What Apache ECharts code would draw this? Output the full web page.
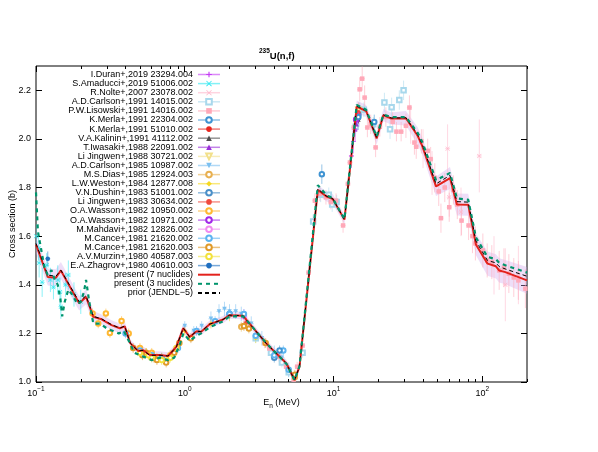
<!DOCTYPE html>
<html><head><meta charset="utf-8">
<script src="https://cdn.jsdelivr.net/npm/echarts@6/dist/echarts.min.js"></script>
<style>html,body{margin:0;padding:0;background:#fff}#c{width:598px;height:452px}</style>
</head><body><div id="c"></div>
<script>
// ---------- DATA ----------
const xMajorTicks = [0.1, 1, 10, 100];
const xMinorTicks = [0.2,0.3,0.4,0.5,0.6,0.7,0.8,0.9,2,3,4,5,6,7,8,9,20,30,40,50,60,70,80,90,200];
const yTicks = [1.0, 1.2, 1.4, 1.6, 1.8, 2.0, 2.2];

const present7 = [[0.100,1.565],[0.120,1.432],[0.136,1.429],[0.147,1.459],[0.195,1.324],[0.217,1.350],[0.243,1.268],[0.276,1.258],[0.322,1.234],[0.366,1.221],[0.395,1.229],[0.430,1.160],[0.486,1.128],[0.525,1.131],[0.582,1.111],[0.679,1.111],[0.773,1.107],[0.879,1.145],[0.977,1.222],[1.08,1.185],[1.20,1.209],[1.29,1.207],[1.47,1.238],[1.81,1.257],[2.0,1.275],[2.46,1.273],[2.73,1.240],[3.53,1.159],[4.82,1.077],[5.47,1.008],[5.91,1.063],[7.85,1.790],[8.93,1.764],[9.89,1.753],[11.85,1.668],[14.33,2.133],[16.57,2.115],[19.5,2.002],[21.66,2.098],[24.4,2.084],[30.7,2.085],[36.8,2.013],[39.7,1.968],[48.9,1.805],[60.7,1.839],[67.6,1.730],[80.5,1.729],[90.7,1.566],[108.5,1.487],[123.6,1.476],[130,1.459],[143,1.452],[200,1.418]];
const present7Unc = [0.035,0.035,0.035,0.035,0.03,0.03,0.025,0.02,0.02,0.02,0.02,0.015,0.015,0.015,0.015,0.015,0.015,0.015,0.015,0.015,0.015,0.015,0.015,0.015,0.015,0.015,0.015,0.015,0.015,0.015,0.015,0.02,0.02,0.02,0.02,0.025,0.025,0.025,0.025,0.025,0.03,0.035,0.035,0.04,0.045,0.045,0.045,0.045,0.05,0.05,0.05,0.05,0.055];
const present3 = [[0.100,1.78],[0.103,1.62],[0.108,1.55],[0.114,1.47],[0.120,1.44],[0.127,1.46],[0.134,1.42],[0.140,1.40],[0.146,1.34],[0.150,1.27],[0.156,1.33],[0.165,1.38],[0.175,1.36],[0.190,1.32],[0.200,1.33],[0.210,1.37],[0.217,1.42],[0.228,1.33],[0.243,1.24],[0.27,1.24],[0.30,1.22],[0.33,1.21],[0.36,1.20],[0.39,1.21],[0.42,1.17],[0.46,1.12],[0.50,1.11],[0.55,1.10],[0.60,1.09],[0.68,1.10],[0.77,1.09],[0.85,1.10],[0.92,1.15],[0.98,1.20],[1.08,1.17],[1.20,1.19],[1.29,1.20],[1.47,1.225],[1.81,1.25],[2.0,1.27],[2.46,1.27],[2.73,1.24],[3.53,1.16],[4.82,1.075],[5.47,1.008],[5.91,1.065],[7.85,1.81],[8.93,1.77],[9.89,1.755],[11.85,1.67],[14.33,2.14],[16.57,2.12],[19.5,2.01],[21.66,2.10],[24.4,2.09],[30.7,2.09],[36.8,2.025],[39.7,1.985],[48.9,1.83],[60.7,1.86],[67.6,1.755],[80.5,1.75],[90.7,1.595],[108.5,1.515],[123.6,1.505],[130,1.49],[143,1.48],[200,1.45]];
const priorJendl5 = [[0.100,1.57],[0.120,1.44],[0.136,1.435],[0.147,1.46],[0.195,1.33],[0.217,1.355],[0.243,1.27],[0.276,1.26],[0.322,1.236],[0.366,1.222],[0.395,1.23],[0.430,1.16],[0.486,1.128],[0.525,1.13],[0.582,1.11],[0.679,1.11],[0.773,1.107],[0.879,1.145],[0.977,1.222],[1.08,1.185],[1.20,1.209],[1.29,1.207],[1.47,1.238],[1.81,1.257],[2.0,1.275],[2.46,1.273],[2.73,1.240],[3.53,1.159],[4.82,1.077],[5.47,1.008],[5.91,1.063],[7.85,1.795],[8.93,1.765],[9.89,1.754],[11.85,1.668],[14.33,2.135],[16.57,2.117],[19.5,2.005],[21.66,2.099],[24.4,2.086],[30.7,2.087],[36.8,2.018],[39.7,1.975],[48.9,1.815],[60.7,1.85],[67.6,1.742],[80.5,1.74],[90.7,1.58],[108.5,1.50],[123.6,1.49],[130,1.475],[143,1.465],[200,1.435]];

// experiments: [E (MeV), sigma (b), dsigma (b)]
const expDuran = [[13.2,1.93,0.05],[13.6,1.99,0.05],[14.0,2.04,0.05],[14.4,2.08,0.05],[14.8,2.10,0.05]];
const expAmaducci = [[0.100,1.60,0.05],[0.104,1.55,0.05],[0.105,1.49,0.06],[0.110,1.41,0.06],[0.118,1.48,0.05],[0.125,1.42,0.05],[0.131,1.39,0.05],[0.140,1.42,0.06],[0.145,1.37,0.06],[0.147,1.31,0.05],[0.158,1.40,0.05],[0.165,1.44,0.06],[0.180,1.36,0.05],[0.200,1.33,0.05]];
const expNolte = [[33,2.06,0.08],[40,1.96,0.08],[46,1.86,0.09],[58.5,1.96,0.10],[60,1.76,0.08],[72,1.70,0.10],[95.6,1.93,0.15],[120,1.48,0.12],[143,1.40,0.15],[175,1.44,0.12]];
const expCarlson91 = [[3.0,1.18,0.02],[3.8,1.12,0.02],[4.5,1.08,0.02],[5.0,1.04,0.02],[6.2,1.12,0.02],[7.3,1.66,0.03],[8.2,1.77,0.03],[9.3,1.77,0.03],[9.8,1.73,0.03],[10.5,1.74,0.03],[14.1,2.05,0.03],[15.0,2.12,0.03],[16.0,2.12,0.03],[18.5,2.06,0.03],[22,2.15,0.04],[24,2.04,0.04],[24.6,2.13,0.04],[27.7,2.16,0.04],[29.6,2.20,0.04]];
const expLisowski = [[3.44,1.159,0.02],[3.7,1.138,0.02],[4.3,1.104,0.02],[4.8,1.063,0.02],[5.4,1.01,0.02],[5.7,1.063,0.02],[6.2,1.15,0.02],[6.8,1.45,0.03],[7.5,1.746,0.03],[8.1,1.774,0.03],[8.9,1.76,0.03],[9.6,1.74,0.03],[10.4,1.746,0.03],[11.6,1.644,0.03],[12.5,1.815,0.03],[12.9,1.903,0.03],[13.7,2.047,0.04],[15.0,2.204,0.05],[15.6,2.248,0.05],[16.2,2.17,0.05],[16.9,2.047,0.04],[17.8,2.06,0.04],[19.2,1.965,0.04],[20.5,2.05,0.04],[22.5,2.09,0.04],[25,2.07,0.04],[26.5,2.03,0.04],[28.5,2.03,0.04],[30.7,2.054,0.05],[32.4,2.129,0.05],[35,1.985,0.05],[36,1.968,0.05],[39,1.99,0.05],[43,1.951,0.05],[45,1.917,0.05],[48,1.84,0.06],[51,1.784,0.06],[52.8,1.674,0.06],[56,1.80,0.06],[60,1.719,0.06],[64,1.79,0.06],[68,1.73,0.06],[72.6,1.664,0.06],[81,1.644,0.06],[86,1.60,0.07],[90,1.57,0.07],[101,1.541,0.07],[108,1.50,0.07],[116,1.493,0.07],[130,1.459,0.08],[140,1.47,0.08],[151,1.446,0.08],[163,1.43,0.08],[175,1.418,0.08],[195,1.384,0.08]];
const expMerla22304 = [[4.34,1.13,0.02],[8.35,1.855,0.04],[14.7,2.09,0.03],[18.8,2.07,0.03]];
const expMerla51010 = [[14.7,2.09,0.03]];
const expKalinin = [[14.7,2.08,0.03]];
const expIwasaki = [[13.9,2.04,0.03],[14.3,2.06,0.03],[14.7,2.09,0.03]];
const expLiJingwen88 = [[14.7,2.12,0.03]];
const expCarlson85 = [[1.0,1.23,0.02],[1.15,1.21,0.02],[1.3,1.23,0.02],[1.5,1.26,0.03],[1.7,1.29,0.03],[1.85,1.30,0.03],[2.0,1.29,0.03],[2.2,1.29,0.03],[2.4,1.28,0.03],[2.8,1.24,0.03],[3.3,1.18,0.03],[4.0,1.12,0.03],[4.5,1.10,0.03],[5.0,1.05,0.03]];
const expDias = [[2.4,1.227,0.02],[5.5,1.02,0.02]];
const expWeston = [[0.5,1.13,0.02],[0.55,1.12,0.02],[0.6,1.11,0.02],[0.65,1.10,0.02],[0.7,1.10,0.02],[0.75,1.09,0.02],[0.8,1.11,0.02],[0.9,1.15,0.02],[1.0,1.21,0.02],[1.5,1.24,0.02],[2.0,1.27,0.02],[3.0,1.18,0.02],[5.0,1.05,0.02]];
const expDushin = [[2.0,1.28,0.02],[4.0,1.10,0.02],[14.7,2.10,0.03]];
const expLiJingwen83 = [[2.6,1.245,0.02],[14.7,2.11,0.03]];
const expWasson10950 = [[0.24,1.282,0.02],[0.262,1.241,0.02],[0.295,1.282,0.02],[0.314,1.202,0.02],[0.376,1.251,0.02],[0.42,1.20,0.02],[0.5,1.14,0.02],[0.6,1.12,0.02],[0.7,1.10,0.02],[0.8,1.11,0.02]];
const expWasson10971 = [[14.2,2.08,0.03]];
const expMahdavi = [[2.5,1.27,0.03]];
const expCance002 = [[0.4,1.20,0.02],[0.5,1.13,0.02],[0.6,1.11,0.02],[0.7,1.10,0.02],[0.9,1.14,0.02],[1.2,1.21,0.02],[1.6,1.25,0.02],[2.0,1.28,0.02],[2.5,1.28,0.02],[3.0,1.19,0.02],[4.0,1.11,0.02],[4.6,1.13,0.02],[5.0,1.05,0.02]];
const expCance003 = [[0.45,1.14,0.02],[0.52,1.11,0.02],[0.55,1.12,0.02],[0.62,1.10,0.02],[0.65,1.09,0.02],[0.75,1.08,0.02],[0.85,1.12,0.02],[0.92,1.16,0.02],[1.1,1.18,0.02],[2.5,1.23,0.02],[2.7,1.22,0.02],[3.5,1.16,0.02],[5.5,1.03,0.02]];
const expMurzin = [[0.5,1.12,0.02],[0.57,1.11,0.02],[0.6,1.10,0.02],[0.7,1.09,0.02],[0.8,1.10,0.02],[0.88,1.14,0.02]];
const expZhagrov = [[0.12,1.507,0.03]];

const expNames = ['I.Duran+,2019 23294.004','S.Amaducci+,2019 51006.002','R.Nolte+,2007 23078.002','A.D.Carlson+,1991 14015.002','P.W.Lisowski+,1991 14016.002','K.Merla+,1991 22304.002','K.Merla+,1991 51010.002','V.A.Kalinin+,1991 41112.002','T.Iwasaki+,1988 22091.002','Li Jingwen+,1988 30721.002','A.D.Carlson+,1985 10987.002','M.S.Dias+,1985 12924.003','L.W.Weston+,1984 12877.008','V.N.Dushin+,1983 51001.002','Li Jingwen+,1983 30634.002','O.A.Wasson+,1982 10950.002','O.A.Wasson+,1982 10971.002','M.Mahdavi+,1982 12826.002','M.Cance+,1981 21620.002','M.Cance+,1981 21620.003','A.V.Murzin+,1980 40587.003','E.A.Zhagrov+,1980 40610.003'];
const expData = [expDuran,expAmaducci,expNolte,expCarlson91,expLisowski,expMerla22304,expMerla51010,expKalinin,expIwasaki,expLiJingwen88,expCarlson85,expDias,expWeston,expDushin,expLiJingwen83,expWasson10950,expWasson10971,expMahdavi,expCance002,expCance003,expMurzin,expZhagrov];
const lineNames = ['present (7 nuclides)','present (3 nuclides)','prior (JENDL\u22125)'];

// ---------- STYLE ----------
const PLUS = 'path://M4,0H6V4H10V6H6V10H4V6H0V4H4Z';
const CROSS = 'path://M1,0L5,4L9,0L10,1L6,5L10,9L9,10L5,6L1,10L0,9L4,5L0,1Z';
const expStyle = [
  {c:'#c43cf5', s:PLUS, z:6},
  {c:'#2ee8f0', s:CROSS, z:5},
  {c:'#ffb8cc', s:CROSS, z:5},
  {c:'#a8d8ec', s:'emptyRect', z:5},
  {c:'#ffa8b8', s:'rect', z:5},
  {c:'#3f93d2', s:'emptyCircle', z:6},
  {c:'#e8271f', s:'circle', z:5},
  {c:'#4d4d4d', s:'triangle', z:5},
  {c:'#9b30d9', s:'triangle', z:5},
  {c:'#f2e08a', s:'emptyTriangle', r:180, z:5},
  {c:'#7cc0f0', s:'triangle', r:180, z:5},
  {c:'#e8b050', s:'emptyCircle', z:5},
  {c:'#f5d820', s:'diamond', z:5},
  {c:'#4a8fc8', s:'emptyCircle', z:5},
  {c:'#f04a3e', s:'circle', z:5},
  {c:'#ffb833', s:'emptyCircle', z:5},
  {c:'#a228e8', s:'emptyCircle', z:5},
  {c:'#f08cf0', s:'emptyCircle', z:5},
  {c:'#5cb4f0', s:'emptyCircle', z:5},
  {c:'#e09a28', s:'emptyCircle', z:5},
  {c:'#f2e23c', s:'emptyCircle', z:5},
  {c:'#1f6fc0', s:'circle', z:5}
];
const FONT = 'Liberation Sans, Arial, Helvetica, sans-serif';

function hexA(h, a){const n=parseInt(h.slice(1),16);return 'rgba('+(n>>16)+','+((n>>8)&255)+','+(n&255)+','+a+')';}

const series = [];
// uncertainty band
series.push({
  type:'custom', z:1, clip:true, silent:true,
  data: present7.map((p,i)=>[p[0],p[1]-present7Unc[i],p[1]+present7Unc[i]]),
  renderItem:function(params, api){
    if (params.dataIndex !== 0) return null;
    const pts = [];
    for (let i=0;i<present7.length;i++) pts.push(api.coord([present7[i][0], present7[i][1]+present7Unc[i]]));
    for (let i=present7.length-1;i>=0;i--) pts.push(api.coord([present7[i][0], present7[i][1]-present7Unc[i]]));
    return {type:'polygon', shape:{points:pts}, style:{fill:'rgba(205,160,235,0.35)'}};
  }
});
// experiments
expData.forEach((d,i)=>{
  const st = expStyle[i];
  series.push({
    type:'custom', z:2, clip:true, silent:true, data:d,
    renderItem:function(params, api){
      const x=api.value(0), y=api.value(1), e=api.value(2);
      const a=api.coord([x,y-e]), b=api.coord([x,y+e]), c=api.coord([x,y]);
      return {type:'group', children:[
        {type:'line', shape:{x1:a[0],y1:a[1],x2:b[0],y2:b[1]}, style:{stroke:hexA(st.c,0.55), lineWidth:1}},
        {type:'line', shape:{x1:c[0]-2.5,y1:c[1],x2:c[0]+2.5,y2:c[1]}, style:{stroke:hexA(st.c,0.55), lineWidth:1}}
      ]};
    }
  });
  series.push({
    name: expNames[i], type:'line', data:d, z:st.z,
    symbol: st.s, symbolRotate: st.r||0, symbolSize: 4.5, showAllSymbol:true,
    lineStyle:{opacity:0}, itemStyle:{color:st.c, borderWidth:1},
    emphasis:{disabled:true}, animation:false
  });
});
series.push({name:lineNames[2], type:'line', data:priorJendl5, z:8, symbol:'none', itemStyle:{color:'#000', opacity:0}, lineStyle:{color:'#000', width:1, type:[4,3]}, animation:false});
series.push({name:lineNames[1], type:'line', data:present3, z:9, symbol:'none', itemStyle:{color:'#00946c', opacity:0}, lineStyle:{color:'#00946c', width:2.2, type:[4,4]}, animation:false});
series.push({name:lineNames[0], type:'line', data:present7, z:7, symbol:'none', itemStyle:{color:'#e3221c', opacity:0}, lineStyle:{color:'#e3221c', width:2}, animation:false});

const legendData = expNames.map(n=>({name:n, lineStyle:{opacity:0.6, width:1.5}, itemStyle:{borderWidth:1}}))
  .concat(lineNames.map(n=>({name:n, itemStyle:{opacity:0}})));

const supFmt = v => { const e = Math.round(Math.log10(v)); return '{b|10}{s|' + (e<0 ? '\u2212'+(-e) : e) + '}'; };
const richLab = { b:{fontSize:9, fontFamily:FONT, color:'#000', lineHeight:12, verticalAlign:'bottom'}, s:{fontSize:6.5, fontFamily:FONT, color:'#000', lineHeight:7, verticalAlign:'top'} };

const xCommon = {type:'log', logBase:10, min:0.1, max:200, gridIndex:0, axisLine:{show:false}, splitLine:{show:false}, minorTick:{show:false}, minorSplitLine:{show:false}};
const option = {
  animation:false,
  textStyle:{fontFamily:FONT},
  title:{text:'{s|235}{b|U(n,f)}', left:254, top:43, textStyle:{rich:{
    b:{fontSize:9.5, fontFamily:FONT, color:'#000', lineHeight:13, verticalAlign:'bottom'},
    s:{fontSize:6.5, fontFamily:FONT, color:'#000', lineHeight:7, verticalAlign:'top'}}}},
  grid:{left:36, right:71, top:66, bottom:70, show:true, borderColor:'#000', borderWidth:1, backgroundColor:'transparent', containLabel:false, outerBoundsMode:'none'},
  legend:{orient:'vertical', align:'right', right:377, top:70, padding:0, itemWidth:22, itemHeight:7, itemGap:0.1,
    selectedMode:false, textStyle:{fontSize:9, fontFamily:FONT, color:'#000', lineHeight:9}, data:legendData},
  xAxis:[
    Object.assign({}, xCommon, {position:'bottom', axisTick:{inside:true, length:6, lineStyle:{color:'#000'}, customValues:xMajorTicks},
      axisLabel:{customValues:xMajorTicks, margin:4, formatter:supFmt, rich:richLab},
      name:'{b|E}{u|n}{b| (MeV)}', nameLocation:'middle', nameGap:16, nameMoveOverlap:false,
      nameTextStyle:{rich:{b:{fontSize:9, fontFamily:FONT, color:'#000', lineHeight:12, verticalAlign:'top'}, u:{fontSize:6.5, fontFamily:FONT, color:'#000', lineHeight:8, verticalAlign:'bottom'}}}}),
    Object.assign({}, xCommon, {position:'bottom', axisTick:{inside:true, length:3, lineStyle:{color:'#000'}, customValues:xMinorTicks}, axisLabel:{show:false}}),
    Object.assign({}, xCommon, {position:'top', axisTick:{inside:true, length:6, lineStyle:{color:'#000'}, customValues:xMajorTicks}, axisLabel:{show:false}}),
    Object.assign({}, xCommon, {position:'top', axisTick:{inside:true, length:3, lineStyle:{color:'#000'}, customValues:xMinorTicks}, axisLabel:{show:false}})
  ],
  yAxis:[
    {type:'value', min:1.0, max:2.3, position:'left', axisLine:{show:false}, splitLine:{show:false},
      axisTick:{inside:true, length:6, lineStyle:{color:'#000'}, customValues:yTicks},
      axisLabel:{customValues:yTicks, margin:5, fontSize:9, color:'#000', fontFamily:FONT, formatter:v=>v.toFixed(1)},
      name:'Cross section (b)', nameLocation:'middle', nameGap:19, nameMoveOverlap:false, nameTextStyle:{fontSize:9, fontFamily:FONT, color:'#000'}},
    {type:'value', min:1.0, max:2.3, position:'right', axisLine:{show:false}, splitLine:{show:false},
      axisTick:{inside:true, length:6, lineStyle:{color:'#000'}, customValues:yTicks}, axisLabel:{show:false}}
  ],
  series: series
};
const chart = echarts.init(document.getElementById('c'), null, {renderer:'canvas'});
chart.setOption(option);
</script></body></html>
